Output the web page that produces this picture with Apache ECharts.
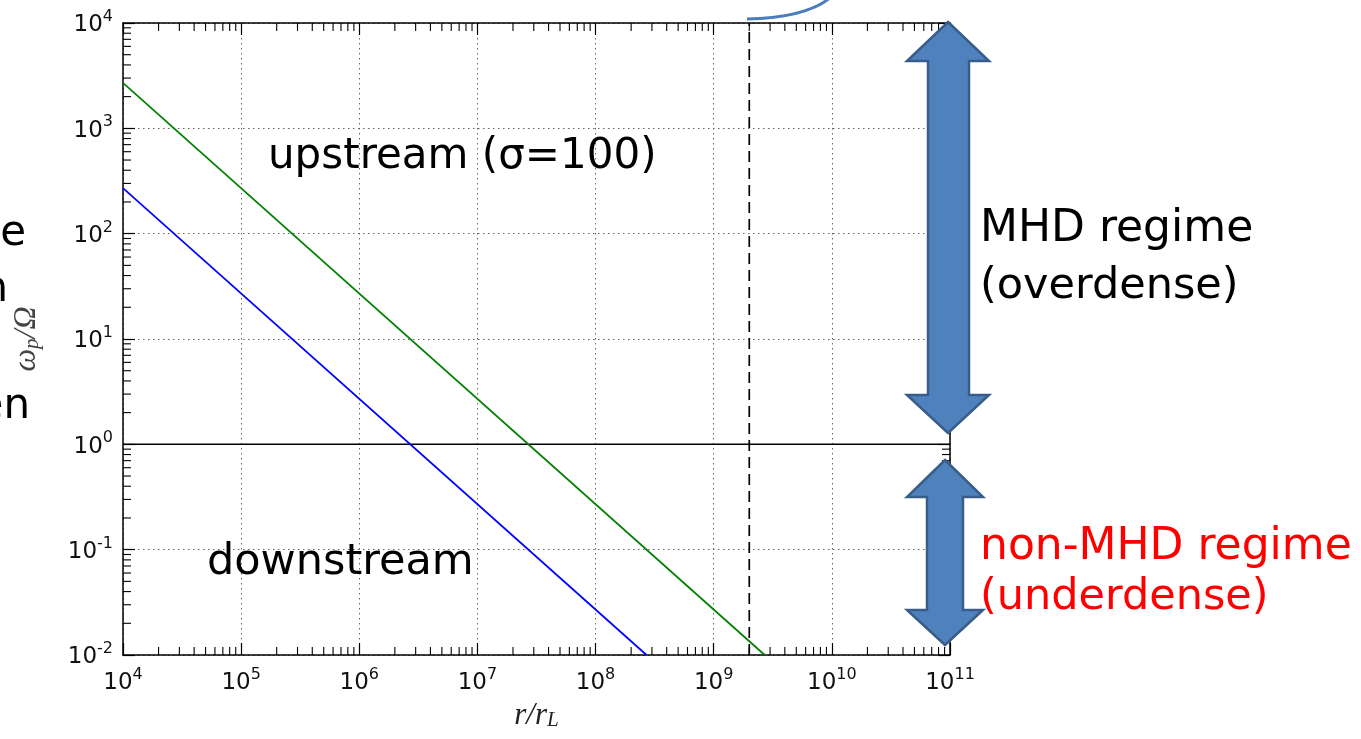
<!DOCTYPE html>
<html>
<head>
<meta charset="utf-8">
<script src="https://cdn.jsdelivr.net/npm/echarts@6/dist/echarts.min.js"></script>
<style>
  html, body { margin: 0; padding: 0; background: #ffffff; }
  #chart { width: 1361px; height: 739px; }
</style>
</head>
<body>
<div id="chart"></div>
<script>
// Decade exponents of the two log axes (tick labels are 10^n)
const xDecades = [4, 5, 6, 7, 8, 9, 10, 11];
const yDecades = [-2, -1, 0, 1, 2, 3, 4];

// ω_p/Ω against r/r_L: both profiles fall as 1/r
const upstreamCurve = [[1e4, 2700], [2.7e9, 0.01]];
const downstreamCurve = [[1e4, 270], [2.7e8, 0.01]];
// ω_p/Ω = 1 boundary and the marked radius
const unityLine = [[1e4, 1], [1e11, 1]];
const markedRadius = [[2e9, 0.01], [2e9, 1e4]];

// Text drawn on the figure
const upstreamLabel = 'upstream (σ=100)';
const downstreamLabel = 'downstream';
const mhdLabel = ['MHD regime', '(overdense)'];
const nonMhdLabel = ['non-MHD regime', '(underdense)'];

const X_MIN = Math.pow(10, xDecades[0]);
const X_MAX = Math.pow(10, xDecades[xDecades.length - 1]);
const Y_MIN = Math.pow(10, yDecades[0]);
const Y_MAX = Math.pow(10, yDecades[yDecades.length - 1]);

const TICK_FONT = 'DejaVu Sans';
const HAND_FONT = '"Comic Sans MS", "DejaVu Sans", sans-serif';
const MATH_FONT = 'Liberation Serif';
const MAJOR_LEN = 12;
const MINOR_LEN = 8;

// minor ticks at 2..9 × 10^n inside each decade
function minorValues(decades) {
  const out = [];
  for (let i = 0; i < decades.length - 1; i++) {
    const base = Math.pow(10, decades[i]);
    for (let k = 2; k <= 9; k++) out.push(k * base);
  }
  return out;
}
const xMinor = minorValues(xDecades);
const yMinor = minorValues(yDecades);

function powerLabel(v) {
  const e = Math.round(Math.log10(v));
  return '{b|10}{s|' + e + '}';
}
const powerRich = {
  b: { fontFamily: TICK_FONT, fontSize: 23, color: '#111', verticalAlign: 'bottom', lineHeight: 25 },
  s: { fontFamily: TICK_FONT, fontSize: 16, color: '#111', verticalAlign: 'bottom', padding: [0, 0, 12, 0] }
};

const frameLine = { show: true, lineStyle: { color: '#000', width: 1.5 } };
const majorTick = { show: true, inside: true, length: MAJOR_LEN, lineStyle: { color: '#000', width: 1.2 } };
const gridLine = { show: true, lineStyle: { color: '#666', width: 1, type: [1.5, 3.5] } };

function logAxis(extra) {
  return Object.assign({
    type: 'log',
    logBase: 10,
    interval: 1,
    axisLine: frameLine,
    axisTick: majorTick,
    minorTick: { show: false },
    minorSplitLine: { show: false }
  }, extra);
}

const chart = echarts.init(document.getElementById('chart'), null, { renderer: 'canvas' });

const option = {
  animation: false,
  backgroundColor: '#ffffff',
  grid: { left: 123, right: 411, top: 23, bottom: 84, containLabel: false },
  xAxis: [
    logAxis({
      position: 'bottom', min: X_MIN, max: X_MAX,
      splitLine: gridLine,
      axisLabel: { show: true, margin: 12, fontFamily: TICK_FONT, fontSize: 23, formatter: powerLabel, rich: powerRich },
      name: '{i|r/r}{l|L}',
      nameLocation: 'middle',
      nameGap: 44,
      nameTextStyle: {
        rich: {
          i: { fontFamily: MATH_FONT, fontStyle: 'italic', fontSize: 31, color: '#222', verticalAlign: 'bottom', lineHeight: 32 },
          l: { fontFamily: MATH_FONT, fontStyle: 'italic', fontSize: 21, color: '#222', verticalAlign: 'bottom', padding: [9, 0, 0, 0] }
        }
      }
    }),
    logAxis({
      position: 'top', min: X_MIN, max: X_MAX,
      splitLine: { show: false },
      axisLabel: { show: false }
    })
  ],
  yAxis: [
    logAxis({
      position: 'left', min: Y_MIN, max: Y_MAX,
      splitLine: gridLine,
      axisLabel: { show: true, margin: 10, fontFamily: TICK_FONT, fontSize: 23, formatter: powerLabel, rich: powerRich },
      name: '{w|ω}{p|p}{w|/Ω}',
      nameLocation: 'middle',
      nameRotate: 90,
      nameGap: 80,
      nameTextStyle: {
        rich: {
          w: { fontFamily: MATH_FONT, fontStyle: 'italic', fontSize: 32, color: '#444', verticalAlign: 'bottom', lineHeight: 33 },
          p: { fontFamily: MATH_FONT, fontStyle: 'italic', fontSize: 21, color: '#444', verticalAlign: 'bottom', padding: [9, 0, 0, 0] }
        }
      }
    }),
    logAxis({
      position: 'right', min: Y_MIN, max: Y_MAX,
      splitLine: { show: false },
      axisLabel: { show: false }
    })
  ],
  series: [
    {
      name: 'upstream', type: 'line', data: upstreamCurve,
      symbol: 'none', silent: true, z: 4,
      lineStyle: { color: '#008000', width: 1.7 }
    },
    {
      name: 'downstream', type: 'line', data: downstreamCurve,
      symbol: 'none', silent: true, z: 4,
      lineStyle: { color: '#0000ff', width: 1.7 }
    },
    {
      name: 'unity', type: 'line', data: unityLine,
      symbol: 'none', silent: true, z: 3,
      lineStyle: { color: '#000', width: 1.5 }
    },
    {
      name: 'marked radius', type: 'line', data: markedRadius,
      symbol: 'none', silent: true, z: 3,
      lineStyle: { color: '#000', width: 1.7, type: [11, 6] }
    },
    {
      // minor ticks on bottom and top edges
      type: 'custom', silent: true, z: 2,
      data: xMinor.map(v => [v, Y_MIN]),
      renderItem: function (params, api) {
        const v = api.value(0);
        const b = api.coord([v, Y_MIN]);
        const t = api.coord([v, Y_MAX]);
        const st = { stroke: '#000', lineWidth: 1.1 };
        return {
          type: 'group', children: [
            { type: 'line', shape: { x1: b[0], y1: b[1], x2: b[0], y2: b[1] - MINOR_LEN }, style: st },
            { type: 'line', shape: { x1: t[0], y1: t[1], x2: t[0], y2: t[1] + MINOR_LEN }, style: st }
          ]
        };
      }
    },
    {
      // minor ticks on left and right edges
      type: 'custom', silent: true, z: 2,
      data: yMinor.map(v => [X_MIN, v]),
      renderItem: function (params, api) {
        const v = api.value(1);
        const l = api.coord([X_MIN, v]);
        const r = api.coord([X_MAX, v]);
        const st = { stroke: '#000', lineWidth: 1.1 };
        return {
          type: 'group', children: [
            { type: 'line', shape: { x1: l[0], y1: l[1], x2: l[0] + MINOR_LEN, y2: l[1] }, style: st },
            { type: 'line', shape: { x1: r[0], y1: r[1], x2: r[0] - MINOR_LEN, y2: r[1] }, style: st }
          ]
        };
      }
    }
  ],
  graphic: [
    // connector stroke entering from the top edge
    {
      type: 'bezierCurve', z: 20, silent: true,
      shape: { x1: 747, y1: 19, cpx1: 790, cpy1: 18, cpx2: 816, cpy2: 10, x2: 831, y2: -3 },
      style: { stroke: '#4a7ebb', lineWidth: 3, fill: null }
    },
    // double arrow spanning ω_p/Ω > 1
    {
      type: 'polygon', z: 20, silent: true,
      shape: { points: [[948, 22], [989, 61], [969, 61], [969, 395], [989, 395], [948, 433], [907, 395], [928, 395], [928, 61], [907, 61]] },
      style: { fill: '#4f81bd', stroke: '#385d8a', lineWidth: 2.5 }
    },
    // double arrow spanning ω_p/Ω < 1
    {
      type: 'polygon', z: 20, silent: true,
      shape: { points: [[945, 460], [983, 497], [963, 497], [963, 610], [983, 610], [945, 645], [907, 610], [927, 610], [927, 497], [907, 497]] },
      style: { fill: '#4f81bd', stroke: '#385d8a', lineWidth: 2.5 }
    },
    { type: 'text', z: 21, silent: true, x: 268, y: 157,
      style: { text: upstreamLabel, font: '42px ' + HAND_FONT, fill: '#000', align: 'left', verticalAlign: 'middle' } },
    { type: 'text', z: 21, silent: true, x: 207, y: 563,
      style: { text: downstreamLabel, font: '43px ' + HAND_FONT, fill: '#000', align: 'left', verticalAlign: 'middle' } },
    { type: 'text', z: 21, silent: true, x: 980, y: 230,
      style: { text: mhdLabel[0], font: '44px ' + HAND_FONT, fill: '#000', align: 'left', verticalAlign: 'middle' } },
    { type: 'text', z: 21, silent: true, x: 980, y: 287,
      style: { text: mhdLabel[1], font: '43px ' + HAND_FONT, fill: '#000', align: 'left', verticalAlign: 'middle' } },
    { type: 'text', z: 21, silent: true, x: 980, y: 548,
      style: { text: nonMhdLabel[0], font: '44px ' + HAND_FONT, fill: '#ff0000', align: 'left', verticalAlign: 'middle' } },
    { type: 'text', z: 21, silent: true, x: 980, y: 598,
      style: { text: nonMhdLabel[1], font: '43px ' + HAND_FONT, fill: '#ff0000', align: 'left', verticalAlign: 'middle' } },
    // ends of neighbouring slide text, cut by the left edge
    { type: 'text', z: 21, silent: true, x: 26, y: 234,
      style: { text: 'e', font: '42px ' + HAND_FONT, fill: '#000', align: 'right', verticalAlign: 'middle' } },
    { type: 'text', z: 21, silent: true, x: 8, y: 290,
      style: { text: 'n', font: '42px ' + HAND_FONT, fill: '#000', align: 'right', verticalAlign: 'middle' } },
    { type: 'text', z: 21, silent: true, x: 30, y: 407,
      style: { text: 'en', font: '42px ' + HAND_FONT, fill: '#000', align: 'right', verticalAlign: 'middle' } }
  ]
};

chart.setOption(option);
</script>
</body>
</html>
